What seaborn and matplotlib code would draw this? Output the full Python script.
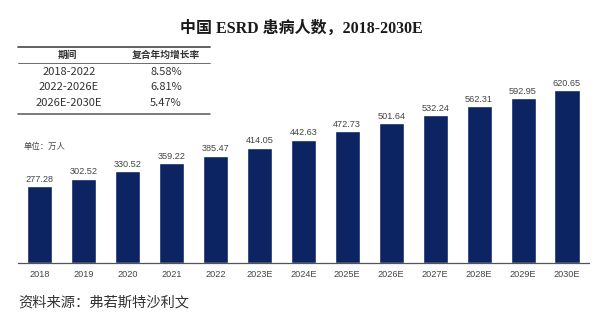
import matplotlib
matplotlib.use("Agg")
import matplotlib.pyplot as plt
import seaborn as sns
import pandas as pd
import numpy as np
from matplotlib.lines import Line2D

years = ["2018", "2019", "2020", "2021", "2022", "2023E", "2024E", "2025E",
         "2026E", "2027E", "2028E", "2029E", "2030E"]
patients = [277.28, 302.52, 330.52, 359.22, 385.47, 414.05, 442.63, 472.73,
            501.64, 532.24, 562.31, 592.95, 620.65]

periods = ["2018-2022", "2022-2026E", "2026E-2030E"]
cagr = ["8.58%", "6.81%", "5.47%"]

sns.set_theme(style="white")
plt.rcParams["font.family"] = ["Noto Sans CJK SC", "DejaVu Sans"]

df = pd.DataFrame({"year": years, "patients": patients})

fig = plt.figure(figsize=(6.0, 3.22), dpi=100)
W, H = 600, 322

def fx(px):
    return px / W

def fy(py):
    return 1 - py / H

ax = fig.add_axes([fx(17.5), fy(263), fx(589) - fx(17.5), fy(68) - fy(263)])
bar_color = "#0d2463"
sns.barplot(data=df, x="year", y="patients", color=bar_color, width=0.57,
            saturation=1, ax=ax)
ax.set_xlim(-0.5, len(years) - 0.5)
ax.set_ylim(0, 700)
ax.set_xlabel("")
ax.set_ylabel("")
ax.set_yticks([])
for s in ["top", "right", "left"]:
    ax.spines[s].set_visible(False)
ax.spines["bottom"].set_color("#555555")
ax.spines["bottom"].set_linewidth(0.9)

ax.tick_params(axis="x", which="major", length=0, pad=5, labelsize=6.6,
               labelcolor="#444444")
ax.set_xticks(np.arange(len(years) + 1) - 0.5, minor=True)
ax.tick_params(axis="x", which="minor", length=2.5, width=0.8,
               color="#555555", direction="out")
for lab in ax.get_xticklabels():
    lab.set_family(["Liberation Sans", "DejaVu Sans"])

for i, v in enumerate(patients):
    ax.text(i, v + 8, f"{v:.2f}", ha="center", va="bottom", fontsize=6.6,
            color="#444444", family=["Liberation Sans", "DejaVu Sans"])

# title
fig.text(fx(301), fy(29), "中国 ESRD 患病人数，2018-2030E", ha="center",
         va="center", fontsize=11.5, fontweight="bold", color="#1a1a1a",
         family=["Liberation Serif", "Noto Sans CJK SC"])

# CAGR table
for y, lw in [(47, 1.3), (63, 0.6), (114, 1.1)]:
    fig.add_artist(Line2D([fx(18), fx(210)], [fy(y), fy(y)],
                          color="#555555", linewidth=lw))
fig.text(fx(68), fy(55), "期间", ha="center", va="center", fontsize=7,
         fontweight="bold", color="#333333")
fig.text(fx(166), fy(55), "复合年均增长率", ha="center", va="center",
         fontsize=7, fontweight="bold", color="#333333")
for k, (p, c) in enumerate(zip(periods, cagr)):
    yy = 72 + k * 15.5
    fig.text(fx(69), fy(yy), p, ha="center", va="center", fontsize=8,
             color="#333333")
    fig.text(fx(166), fy(yy), c, ha="center", va="center", fontsize=8,
             color="#333333")

fig.text(fx(24), fy(146), "单位：万人", ha="left", va="center", fontsize=6,
         color="#444444")

fig.text(fx(18), fy(302), "资料来源：弗若斯特沙利文", ha="left", va="center",
         fontsize=10.3, color="#333333")

fig.savefig("out.png", dpi=100, facecolor="white")
